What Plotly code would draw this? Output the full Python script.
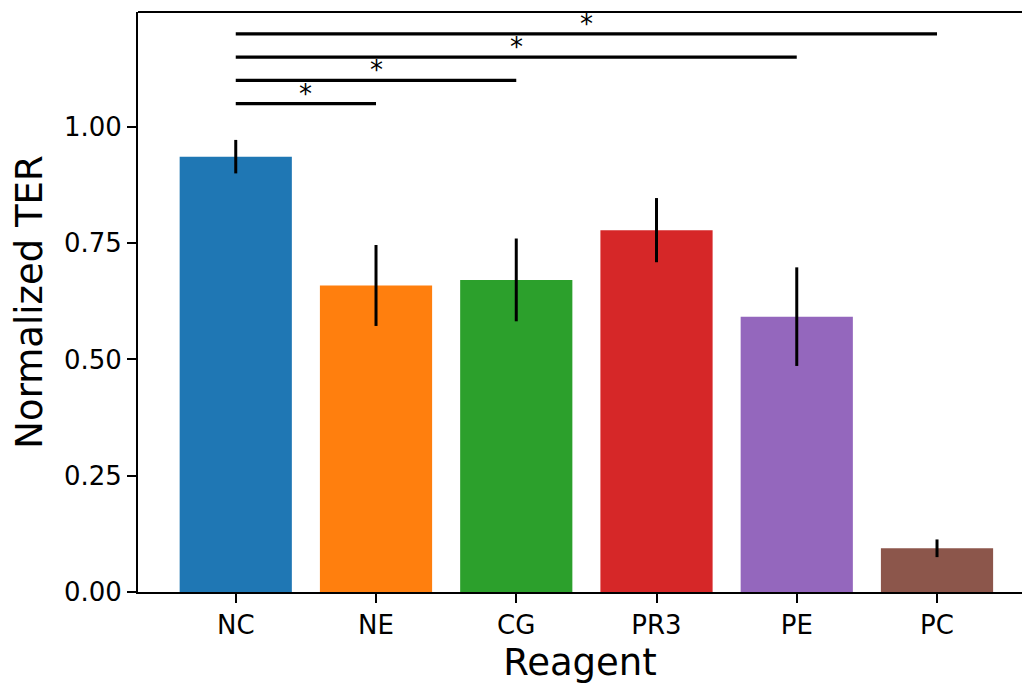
import plotly.graph_objects as go

categories = ["NC", "NE", "CG", "PR3", "PE", "PC"]
values = [0.936, 0.659, 0.671, 0.778, 0.592, 0.094]
errors = [0.036, 0.087, 0.089, 0.069, 0.106, 0.019]
colors = ["#1f77b4", "#ff7f0e", "#2ca02c", "#d62728", "#9467bd", "#8c564b"]

sig_pairs = [("NC", "NE"), ("NC", "CG"), ("NC", "PE"), ("NC", "PC")]
sig_heights = [1.05, 1.10, 1.15, 1.20]
sig_labels = ["*", "*", "*", "*"]

y_ticks = [0.0, 0.25, 0.5, 0.75, 1.0]
y_tick_text = ["0.00", "0.25", "0.50", "0.75", "1.00"]

FONT = "DejaVu Sans"
idx = {c: i for i, c in enumerate(categories)}
xpos = list(range(len(categories)))

fig = go.Figure()
fig.add_trace(go.Bar(
    x=xpos, y=values, width=0.8,
    marker=dict(color=colors, line=dict(width=0)),
    error_y=dict(type="data", array=errors, visible=True, color="black",
                 thickness=3, width=0),
    showlegend=False, hoverinfo="skip",
))

annotations = []
for (a, b), h, lab in zip(sig_pairs, sig_heights, sig_labels):
    fig.add_trace(go.Scatter(
        x=[idx[a], idx[b]], y=[h, h], mode="lines",
        line=dict(color="black", width=3.2),
        showlegend=False, hoverinfo="skip",
    ))
    annotations.append(dict(
        x=(idx[a] + idx[b]) / 2, y=h, xref="x", yref="y",
        text=lab, showarrow=False, yanchor="bottom", xanchor="center",
        yshift=-7, font=dict(family=FONT, size=26, color="black"),
    ))

fig.update_layout(
    width=1022, height=684,
    margin=dict(l=138, r=0, t=12, b=92),
    paper_bgcolor="white", plot_bgcolor="white",
    font=dict(family=FONT, color="black"),
    annotations=annotations,
    shapes=[dict(type="line", xref="paper", yref="paper", x0=0, x1=1, y0=1, y1=1,
                 line=dict(color="black", width=2))],
    xaxis=dict(
        range=[-0.697, 5.606], tickmode="array", tickvals=xpos, ticktext=categories,
        showline=True, linecolor="black", linewidth=2, ticks="outside",
        ticklen=9, tickwidth=2, tickcolor="black", showgrid=False, zeroline=False,
        tickfont=dict(family=FONT, size=26, color="black"),
        title=dict(text="Reagent", font=dict(family=FONT, size=37, color="black"), standoff=12),
    ),
    yaxis=dict(
        range=[0, 1.247], tickmode="array", tickvals=y_ticks, ticktext=y_tick_text,
        showline=True, linecolor="black", linewidth=2, ticks="outside",
        ticklen=9, tickwidth=2, tickcolor="black", showgrid=False, zeroline=False,
        tickfont=dict(family=FONT, size=26, color="black"),
        title=dict(text="Normalized TER", font=dict(family=FONT, size=37, color="black"), standoff=10),
    ),
)

fig.write_html("out.html")
